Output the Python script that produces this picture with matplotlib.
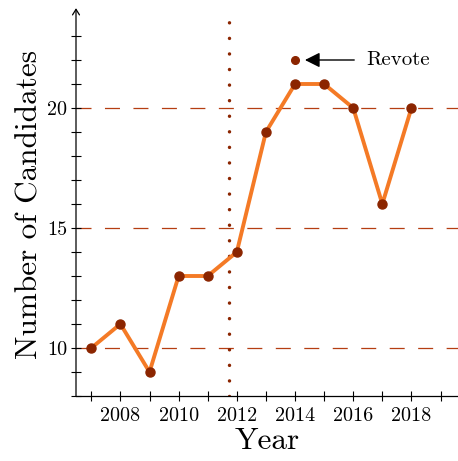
import matplotlib
matplotlib.use("Agg")
import matplotlib.pyplot as plt

plt.rcParams['font.family'] = 'serif'
plt.rcParams['font.serif'] = ['cmr10']
plt.rcParams['axes.formatter.use_mathtext'] = True
plt.rcParams['mathtext.fontset'] = 'cm'
plt.rcParams['lines.scale_dashes'] = False

years = [2007, 2008, 2009, 2010, 2011, 2012, 2013, 2014, 2015, 2016, 2017, 2018]
candidates = [10, 11, 9, 13, 13, 14, 19, 21, 21, 20, 16, 20]
revote_year = 2014
revote_value = 22
revote_label = "Revote"
marker_line_x = 2011.72
grid_levels = [10, 15, 20]
xtick_positions = list(range(2007, 2020))
xtick_labels = [str(y) if y % 2 == 0 else "" for y in xtick_positions]
ytick_positions = list(range(8, 24))
ytick_labels = [str(v) if v % 5 == 0 else "" for v in ytick_positions]

line_color = "#F47A26"
marker_color = "#8B2500"
grid_color = "#B53E12"

fig = plt.figure(figsize=(4.58, 4.61), dpi=100)
ax = fig.add_axes([76/458, 65/461, 1 - 76/458, (396-12)/461])

ax.set_xlim(2006.474, 2019.60)
ax.set_ylim(8, 24)

for g in grid_levels:
    ax.axhline(g, color=grid_color, lw=0.9, linestyle=(0, (10.8, 9.7)), zorder=1)

ax.axvline(marker_line_x, color=marker_color, lw=2.5, linestyle=(0, (0.01, 11.2)),
           dash_capstyle='round', zorder=1)

ax.plot(years, candidates, color=line_color, lw=2.8, zorder=2,
        solid_joinstyle='round')
ax.plot(years, candidates, 'o', color=marker_color, ms=6.5, zorder=3)
ax.plot([revote_year], [revote_value], 'o', color=marker_color, ms=5.5, zorder=3)

ax.annotate(revote_label, xy=(revote_year + 0.34, revote_value),
            xytext=(revote_year + 2.44, revote_value),
            fontsize=15, va='center', ha='left',
            arrowprops=dict(arrowstyle='-|>,head_length=0.6,head_width=0.3',
                            color='black', lw=1, shrinkA=6.5, shrinkB=0))

ax.set_xticks(xtick_positions)
ax.set_xticklabels(xtick_labels)
ax.set_yticks(ytick_positions)
ax.set_yticklabels(ytick_labels)
ax.tick_params(direction='inout', length=6.5, width=0.8, labelsize=14.5, color='black')
ax.tick_params(axis='y', pad=3)
ax.tick_params(axis='x', pad=5)

for s in ['top', 'right', 'left']:
    ax.spines[s].set_visible(False)
ax.spines['bottom'].set_linewidth(0.9)

ax.annotate('', xy=(0, 1.01), xytext=(0, 0), xycoords='axes fraction',
            arrowprops=dict(arrowstyle='->,head_length=0.4,head_width=0.25',
                            color='black', lw=0.9, shrinkA=0, shrinkB=0))

ax.set_xlabel("Year", fontsize=22.5, labelpad=1)
ax.set_ylabel("Number of Candidates", fontsize=22.5, labelpad=3)

fig.savefig("out.png", dpi=100)
